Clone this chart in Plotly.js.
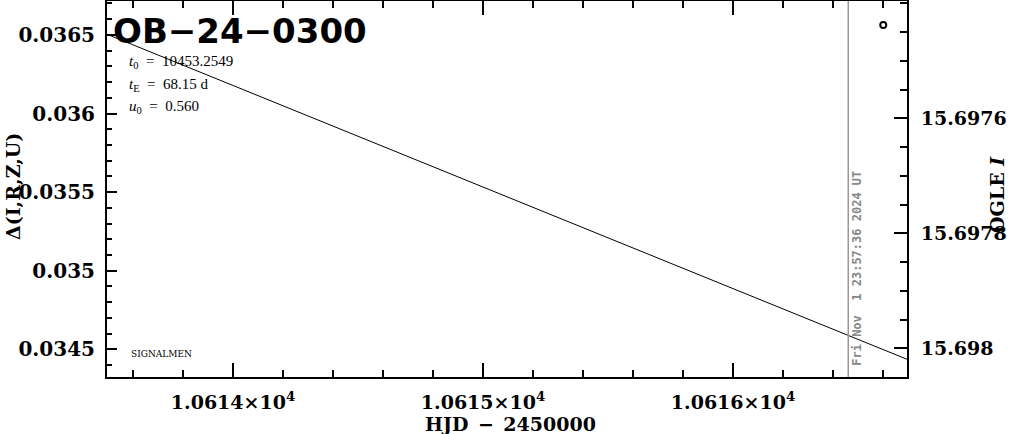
<!DOCTYPE html>
<html>
<head>
<meta charset="utf-8">
<script src="https://cdn.plot.ly/plotly-3.0.1.min.js"></script>
<style>html,body{margin:0;padding:0;background:#fff;}#chart{width:1011px;height:434px;}</style>
</head>
<body>
<div id="chart"></div>
<script>
// ---- data ----
const modelHJD   = [10613.496, 10615.0, 10616.696];
const modelDelta = [0.036504, 0.035532, 0.034437];
const obsHJD     = [10616.601];
const obsDelta   = [0.036563];
const nowHJD     = [10616.461];
const nowLabel   = "Fri Nov\u00a0 1 23:57:36 2024 UT";

const xTickVals  = [10614, 10615, 10616];
const xTickText  = ["1.0614×10<sup>4</sup>", "1.0615×10<sup>4</sup>", "1.0616×10<sup>4</sup>"];
const yTickVals  = [0.0345, 0.035, 0.0355, 0.036, 0.0365];
const yTickText  = ["0.0345", "0.035", "0.0355", "0.036", "0.0365"];
const y2TickVals = [15.6976, 15.6978, 15.698];
const y2TickText = ["15.6976", "15.6978", "15.698"];

const eventName = "OB−24−0300";
const t0Text = "10453.2549";
const tEText = "68.15 d";
const u0Text = "0.560";

const xRange  = [10613.496, 10616.696];
const yRange  = [0.0343243, 0.0367157];
const y2Range = [15.69805, 15.697396];

const SERIF = "DejaVu Serif, serif";
const tickFontL = {family: SERIF, size: 20, color: "#000", weight: "bold"};
const tickFontR = {family: SERIF, size: 19, color: "#000", weight: "bold"};
const tickFontX = {family: SERIF, size: 19, color: "#000", weight: "bold"};
const EQ = "\u2002=\u2002";

const traces = [
  {x: modelHJD, y: modelDelta, type: "scatter", mode: "lines",
   line: {color: "#000", width: 1}, hoverinfo: "skip", showlegend: false},
  {x: obsHJD, y: obsDelta, type: "scatter", mode: "markers",
   marker: {symbol: "circle-open", size: 6, color: "#000", line: {width: 2, color: "#000"}},
   hoverinfo: "skip", showlegend: false},
  {x: [], y: [], yaxis: "y2", type: "scatter", mode: "markers", showlegend: false, hoverinfo: "skip"}
];

const layout = {
  width: 1011, height: 434,
  margin: {l: 107, r: 104, t: 1, b: 57, pad: 0},
  paper_bgcolor: "#fff", plot_bgcolor: "#fff",
  showlegend: false,
  xaxis: {
    range: xRange, showgrid: false, zeroline: false,
    showline: true, linecolor: "#000", linewidth: 2, mirror: "ticks",
    ticks: "inside", ticklen: 14, tickwidth: 2, tickcolor: "#000",
    tickmode: "array", tickvals: xTickVals, ticktext: xTickText,
    tickfont: tickFontX, ticklabelstandoff: 7,
    minor: {ticks: "inside", ticklen: 7, tickwidth: 2, tickcolor: "#000", dtick: 0.2, tick0: 10614, showgrid: false}
  },
  yaxis: {
    range: yRange, showgrid: false, zeroline: false,
    showline: true, linecolor: "#000", linewidth: 2, mirror: false,
    ticks: "inside", ticklen: 10, tickwidth: 2, tickcolor: "#000",
    tickmode: "array", tickvals: yTickVals, ticktext: yTickText,
    tickfont: tickFontL, ticklabelstandoff: 6,
    minor: {ticks: "inside", ticklen: 5, tickwidth: 2, tickcolor: "#000", dtick: 0.0001, tick0: 0.0345, showgrid: false}
  },
  yaxis2: {
    overlaying: "y", side: "right", range: y2Range, showgrid: false, zeroline: false,
    showline: true, linecolor: "#000", linewidth: 2,
    ticks: "inside", ticklen: 13, tickwidth: 2, tickcolor: "#000",
    tickmode: "array", tickvals: y2TickVals, ticktext: y2TickText,
    tickfont: tickFontR, ticklabelstandoff: 8,
    minor: {ticks: "inside", ticklen: 7, tickwidth: 2, tickcolor: "#000", dtick: 0.00005, tick0: 15.6976, showgrid: false}
  },
  shapes: [
    {type: "line", xref: "x", yref: "paper", x0: nowHJD[0], x1: nowHJD[0], y0: 0, y1: 1,
     line: {color: "#999", width: 1.5}}
  ],
  annotations: [
    {xref: "paper", yref: "paper", x: 0.005, y: (377 - 31) / 376, xanchor: "left", yanchor: "middle",
     text: eventName, showarrow: false, font: {family: "DejaVu Sans, sans-serif", size: 34, color: "#000", weight: "bold"}},
    {xref: "paper", yref: "paper", x: 0.025, y: (377 - 62) / 376, xanchor: "left", yanchor: "middle",
     text: "<i>t</i><sub>0</sub>" + EQ + t0Text, showarrow: false, font: {family: "Liberation Serif, serif", size: 15, color: "#000"}},
    {xref: "paper", yref: "paper", x: 0.025, y: (377 - 85) / 376, xanchor: "left", yanchor: "middle",
     text: "<i>t</i><sub>E</sub>" + EQ + tEText, showarrow: false, font: {family: "Liberation Serif, serif", size: 15, color: "#000"}},
    {xref: "paper", yref: "paper", x: 0.025, y: (377 - 107) / 376, xanchor: "left", yanchor: "middle",
     text: "<i>u</i><sub>0</sub>" + EQ + u0Text, showarrow: false, font: {family: "Liberation Serif, serif", size: 15, color: "#000"}},
    {xref: "paper", yref: "paper", x: 0.028, y: (377 - 354) / 376, xanchor: "left", yanchor: "middle",
     text: "SIGNALMEN", showarrow: false, font: {family: SERIF, size: 9, color: "#000"}},
    {xref: "x", yref: "paper", x: nowHJD[0], xshift: 8.5, y: (377 - 268) / 376, xanchor: "center", yanchor: "middle",
     text: nowLabel, textangle: -90, showarrow: false,
     font: {family: "DejaVu Sans Mono, monospace", size: 12, color: "#888", weight: "bold"}},
    {xref: "paper", yref: "paper", x: 0.504, y: (377 - 424) / 376, xanchor: "center", yanchor: "middle",
     text: "HJD\u2002−\u20022450000", showarrow: false, font: {family: SERIF, size: 19, color: "#000", weight: "bold"}},
    {xref: "paper", yref: "paper", x: -94 / 800, y: (377 - 187) / 376, xanchor: "center", yanchor: "middle",
     text: "Δ(I,R,Z,U)", textangle: -90, showarrow: false, font: {family: SERIF, size: 19, color: "#000", weight: "bold"}},
    {xref: "paper", yref: "paper", x: (997 - 107) / 800, y: (377 - 195) / 376, xanchor: "center", yanchor: "middle",
     text: "OGLE <i>I</i>", textangle: -90, showarrow: false, font: {family: SERIF, size: 19, color: "#000", weight: "bold"}}
  ]
};

Plotly.newPlot("chart", traces, layout, {staticPlot: true, displayModeBar: false});
</script>
</body>
</html>
